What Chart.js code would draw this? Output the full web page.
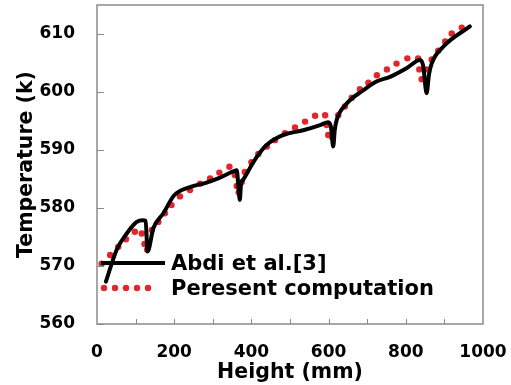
<!DOCTYPE html>
<html>
<head>
<meta charset="utf-8">
<script src="https://cdn.jsdelivr.net/npm/chart.js@4/dist/chart.umd.min.js"></script>
<style>
  html, body { margin: 0; padding: 0; background: #fff; }
  canvas { display: block; }
</style>
</head>
<body>
<canvas id="myChart" width="511" height="385"></canvas>
<script>
// Abdi et al.[3] - solid black curve (height mm, temperature K)
const abdiHeight = [23, 51, 77, 103, 118, 126, 131, 146, 172, 200, 241, 280, 314, 353, 362, 366, 370, 373, 379, 414,
  440, 483, 534, 578, 599, 606, 612, 616, 621, 647, 690, 724, 759, 802, 837, 845, 854, 860, 867, 897, 966];
const abdiTemp = [567.3, 572.8, 575.6, 577.6, 577.9, 577.8, 572.5, 576.5, 579.1, 582.2, 583.6, 584.3, 585.1, 586.3, 586.5, 584, 581.4, 584, 584.9, 588.8,
  590.9, 592.6, 593.4, 594.3, 594.8, 594, 590.6, 593.5, 595.2, 598, 600.3, 601.8, 602.6, 604.1, 605.5, 604.5, 599.8, 603, 604.9, 607.8, 611.3];

// Present computation - red dots
const compHeight = [12, 34, 55, 75, 98, 116, 123, 130, 142, 159, 176, 193, 215, 241, 267, 293, 317, 343, 357, 362,
  367, 375, 383, 400, 418, 440, 461, 487, 513, 539, 565, 591, 595, 599, 608, 625, 642, 660, 681, 703,
  725, 751, 776, 804, 832, 835, 841, 854, 867, 884, 902, 919, 945];
const compTemp = [570.4, 571.9, 573.3, 574.6, 575.9, 575.6, 573.8, 572.8, 576.2, 577.6, 579.1, 580.5, 582, 583.1, 584.2, 585.1, 586.1, 587.1, 585.7, 583.8,
  582.7, 584.5, 586.2, 587.9, 589.3, 590.6, 591.7, 592.9, 593.9, 594.9, 595.9, 596, 594.3, 592.6, 592.3, 596, 597.5, 599, 600.5, 601.6,
  602.9, 603.9, 604.9, 605.8, 605.8, 603.9, 602.2, 603.9, 605.6, 607.1, 608.7, 610.1, 611.1];

const seriesNames = ['Abdi et al.[3]', 'Peresent computation'];
const yTickValues = [560, 570, 580, 590, 600, 610];

const FONT = "'DejaVu Sans', sans-serif";
const RED = '#e3262b';
const FRAME = '#8a8a8a';

function toPoints(xs, ys) {
  return xs.map((x, i) => ({ x: x, y: ys[i] }));
}

// frame, inward tick marks and the in-plot legend
const framePlugin = {
  id: 'frame',
  afterDraw(chart) {
    const ctx = chart.ctx;
    const a = chart.chartArea;
    const xs = chart.scales.x, ys = chart.scales.y;
    ctx.save();
    ctx.strokeStyle = FRAME;
    ctx.lineWidth = 1.5;
    ctx.strokeRect(a.left, a.top, a.right - a.left, a.bottom - a.top);
    ctx.lineWidth = 1;
    ctx.beginPath();
    yTickValues.forEach(v => {
      const py = Math.round(ys.getPixelForValue(v)) + 0.5;
      ctx.moveTo(a.left, py); ctx.lineTo(a.left + 7, py);
    });
    for (let v = 100; v < 1000; v += 100) {
      const px = Math.round(xs.getPixelForValue(v)) + 0.5;
      ctx.moveTo(px, a.bottom); ctx.lineTo(px, a.bottom - 5);
    }
    ctx.stroke();

    // legend
    const ds = chart.data.datasets;
    ctx.strokeStyle = ds[0].borderColor;
    ctx.lineWidth = 4;
    ctx.beginPath();
    ctx.moveTo(101, 263); ctx.lineTo(165, 263);
    ctx.stroke();
    ctx.fillStyle = ds[1].backgroundColor;
    for (let i = 0; i < 5; i++) {
      ctx.beginPath();
      ctx.arc(104 + i * 11, 288, 3.2, 0, Math.PI * 2);
      ctx.fill();
    }
    ctx.fillStyle = '#000';
    ctx.font = 'bold 21px ' + FONT;
    ctx.textBaseline = 'alphabetic';
    ctx.fillText(ds[0].label, 171, 270);
    ctx.fillText(ds[1].label, 171, 295);
    ctx.restore();
  }
};

const data = {
  datasets: [
    {
      label: seriesNames[0],
      data: toPoints(abdiHeight, abdiTemp),
      borderColor: '#000',
      backgroundColor: '#000',
      borderWidth: 4,
      pointRadius: 0,
      cubicInterpolationMode: 'monotone',
      borderCapStyle: 'round',
      borderJoinStyle: 'round'
    },
    {
      label: seriesNames[1],
      data: toPoints(compHeight, compTemp),
      showLine: false,
      borderColor: RED,
      backgroundColor: RED,
      pointRadius: 3.2,
      pointBorderWidth: 0
    }
  ]
};

const config = {
  type: 'line',
  data: data,
  options: {
    responsive: false,
    animation: false,
    devicePixelRatio: 1,
    layout: { padding: { top: 5, right: 28, left: 0, bottom: 0 } },
    plugins: { legend: { display: false }, tooltip: { enabled: false } },
    scales: {
      x: {
        type: 'linear',
        min: 0, max: 1000,
        grid: { display: false, drawTicks: false },
        border: { display: false },
        ticks: {
          stepSize: 100,
          autoSkip: false,
          maxRotation: 0,
          padding: 18,
          color: '#000',
          font: { family: FONT, size: 17, weight: 'bold' },
          callback: v => (v % 200 === 0 ? v : '')
        },
        title: {
          display: true,
          text: 'Height (mm)',
          color: '#000',
          font: { family: FONT, size: 20.5, weight: 'bold' },
          padding: { top: 2, bottom: 0 }
        },
        afterFit: s => { s.height = 61; s.paddingLeft = 0; s.paddingRight = 0; }
      },
      y: {
        min: 560, max: 615,
        grid: { display: false, drawTicks: false },
        border: { display: false },
        afterBuildTicks: s => { s.ticks = yTickValues.map(v => ({ value: v })); },
        ticks: {
          padding: 22,
          color: '#000',
          font: { family: FONT, size: 17, weight: 'bold' }
        },
        title: {
          display: true,
          text: 'Temperature (k)',
          color: '#000',
          font: { family: FONT, size: 20.5, weight: 'bold' },
          padding: { top: 14, bottom: 0 }
        },
        afterFit: s => { s.width = 97; s.paddingTop = 0; s.paddingBottom = 0; }
      }
    }
  },
  plugins: [framePlugin]
};

const myChart = new Chart(document.getElementById('myChart'), config);
</script>
</body>
</html>
